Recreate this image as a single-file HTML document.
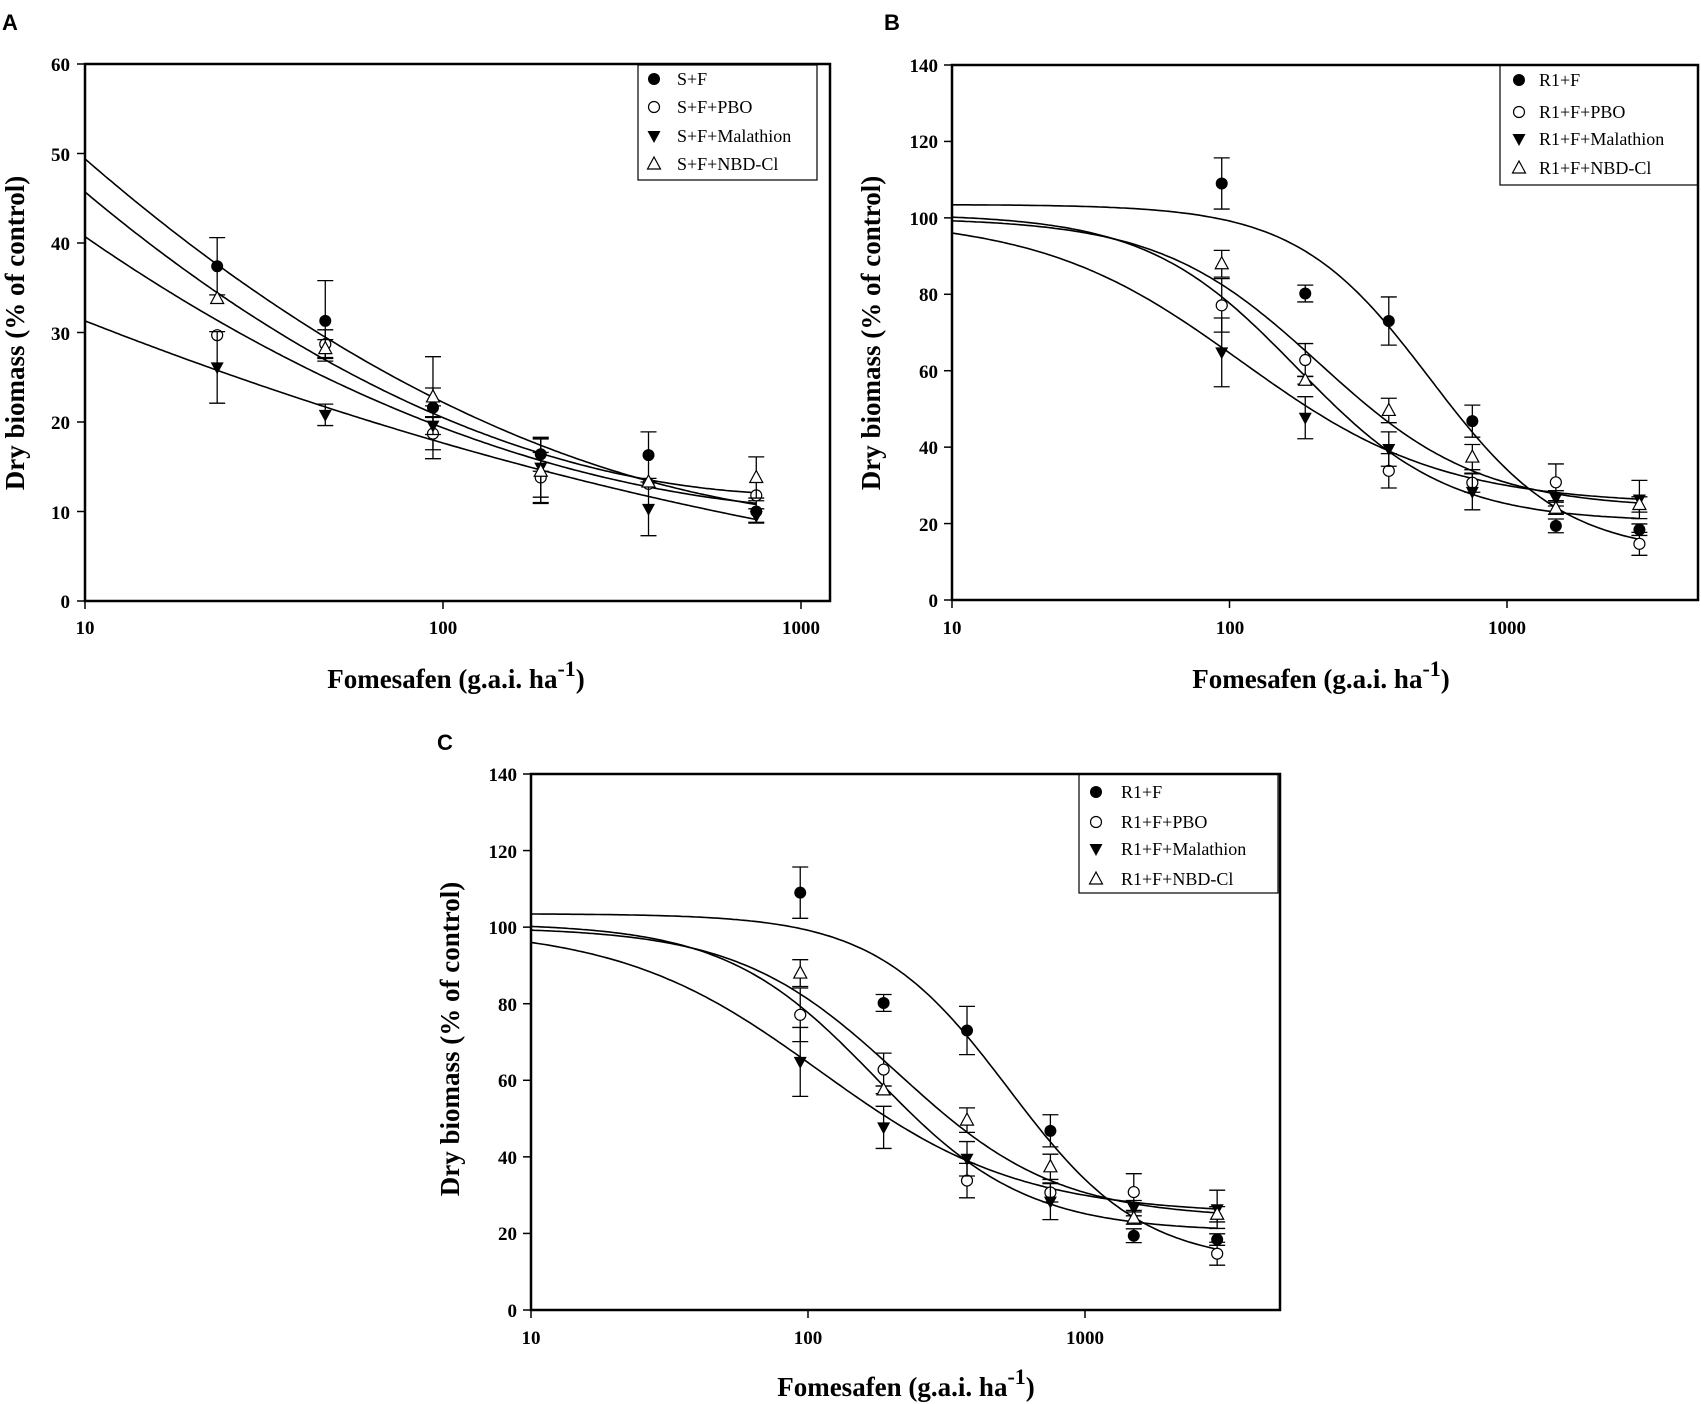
<!DOCTYPE html>
<html><head><meta charset="utf-8"><style>
body{margin:0;background:#fff;}
svg{display:block;font-family:"Liberation Serif",serif;}
.tk{font-weight:bold;font-size:19px;}
.ttl{font-weight:bold;font-size:27px;}
.lg{font-size:18px;}
.pl{font-family:"Liberation Sans",sans-serif;font-weight:bold;font-size:22px;}
</style></head><body>
<svg id="s" width="1701" height="1404" viewBox="0 0 1701 1404" xmlns="http://www.w3.org/2000/svg">
<text class="pl" x="2" y="30">A</text>
<text class="pl" x="884" y="30">B</text>
<text class="pl" x="437" y="750">C</text>
<g class="tk" text-anchor="end">
<text x="70" y="71">60</text><text x="70" y="161">50</text><text x="70" y="250">40</text><text x="70" y="340">30</text><text x="70" y="429">20</text><text x="70" y="519">10</text><text x="70" y="608">0</text>
</g>
<g class="tk" text-anchor="middle">
<text x="85" y="634">10</text><text x="443" y="634">100</text><text x="801" y="634">1000</text>
</g>
<text class="ttl" text-anchor="middle" x="456" y="688">Fomesafen (g.a.i. ha<tspan dy="-12" font-size="22">-1</tspan><tspan dy="12">)</tspan></text>
<text class="ttl" text-anchor="middle" transform="translate(24,333) rotate(-90)">Dry biomass (% of control)</text>
<g class="tk" text-anchor="end">
<text x="938" y="72">140</text><text x="938" y="148">120</text><text x="938" y="225">100</text><text x="938" y="301">80</text><text x="938" y="378">60</text><text x="938" y="454">40</text><text x="938" y="531">20</text><text x="938" y="607">0</text>
</g>
<g class="tk" text-anchor="middle">
<text x="952" y="634">10</text><text x="1230" y="634">100</text><text x="1507" y="634">1000</text>
</g>
<text class="ttl" text-anchor="middle" x="1321" y="688">Fomesafen (g.a.i. ha<tspan dy="-12" font-size="22">-1</tspan><tspan dy="12">)</tspan></text>
<text class="ttl" text-anchor="middle" transform="translate(880,333) rotate(-90)">Dry biomass (% of control)</text>
<g class="tk" text-anchor="end">
<text x="517" y="781">140</text><text x="517" y="858">120</text><text x="517" y="934">100</text><text x="517" y="1011">80</text><text x="517" y="1087">60</text><text x="517" y="1164">40</text><text x="517" y="1240">20</text><text x="517" y="1317">0</text>
</g>
<g class="tk" text-anchor="middle">
<text x="531" y="1344">10</text><text x="808" y="1344">100</text><text x="1085" y="1344">1000</text>
</g>
<text class="ttl" text-anchor="middle" x="906" y="1396">Fomesafen (g.a.i. ha<tspan dy="-12" font-size="22">-1</tspan><tspan dy="12">)</tspan></text>
<text class="ttl" text-anchor="middle" transform="translate(459,1039) rotate(-90)">Dry biomass (% of control)</text>
<rect x="638" y="65" width="179" height="115" fill="#fff" stroke="#000" stroke-width="1.2"/>
<g class="lg"><text x="677" y="85">S+F</text><text x="677" y="113">S+F+PBO</text><text x="677" y="142">S+F+Malathion</text><text x="677" y="170">S+F+NBD-Cl</text></g>
<rect x="1500" y="65" width="198" height="120" fill="#fff" stroke="#000" stroke-width="1.2"/>
<g class="lg"><text x="1539" y="86">R1+F</text><text x="1539" y="118">R1+F+PBO</text><text x="1539" y="145">R1+F+Malathion</text><text x="1539" y="174">R1+F+NBD-Cl</text></g>
<rect x="1079" y="774" width="199" height="119" fill="#fff" stroke="#000" stroke-width="1.2"/>
<g class="lg"><text x="1121" y="798">R1+F</text><text x="1121" y="828">R1+F+PBO</text><text x="1121" y="855">R1+F+Malathion</text><text x="1121" y="885">R1+F+NBD-Cl</text></g>
<g id="g"></g>
</svg>
<script>
var g=document.getElementById('g'),NS='http://www.w3.org/2000/svg';
function el(t,a){var e=document.createElementNS(NS,t);for(var k in a)e.setAttribute(k,a[k]);g.appendChild(e);return e;}
function mk(type,x,y){
 var r=6;
 if(type==0)el('circle',{cx:x,cy:y,r:r,fill:'#000'});
 if(type==1)el('circle',{cx:x,cy:y,r:r-0.5,fill:'#fff',stroke:'#000','stroke-width':1.2});
 if(type==2)el('polygon',{points:(x-6.5)+','+(y-5)+' '+(x+6.5)+','+(y-5)+' '+x+','+(y+7),fill:'#000'});
 if(type==3)el('polygon',{points:(x-6.5)+','+(y+5)+' '+(x+6.5)+','+(y+5)+' '+x+','+(y-7),fill:'#fff',stroke:'#000','stroke-width':1.2});
}
function panel(P){
 var X=function(v){return P.x0+(Math.log10(v)-1)*P.dec;},Y=function(v){return P.yb-(v/P.ymax)*(P.yb-P.yt);};
 el('rect',{x:P.x0,y:P.yt,width:P.x1-P.x0,height:P.yb-P.yt,fill:'none',stroke:'#000','stroke-width':2.5});
 P.yt_.forEach(function(t){el('line',{x1:P.x0-8,x2:P.x0,y1:Y(t),y2:Y(t),stroke:'#000','stroke-width':1.5});});
 [10,100,1000].forEach(function(t){el('line',{x1:X(t),x2:X(t),y1:P.yb,y2:P.yb+8,stroke:'#000','stroke-width':1.5});});
 P.curves.forEach(function(f){var d='';for(var i=0;i<=200;i++){var lv=1+i/200*(Math.log10(P.xe)-1),v=Math.pow(10,lv);d+=(i?'L':'M')+X(v).toFixed(1)+','+Y(f(v)).toFixed(1);}el('path',{d:d,fill:'none',stroke:'#000','stroke-width':1.6});});
 P.data.forEach(function(s,ti){s.forEach(function(p,i){var x=X(P.xs[i]),y=Y(p[0]),e=p[1];if(e){var a=Y(p[0]+e),b=Y(p[0]-e);el('line',{x1:x,x2:x,y1:a,y2:b,stroke:'#000','stroke-width':1.3});el('line',{x1:x-8,x2:x+8,y1:a,y2:a,stroke:'#000','stroke-width':1.3});el('line',{x1:x-8,x2:x+8,y1:b,y2:b,stroke:'#000','stroke-width':1.3});}mk(ti,x,y);});});
 P.leg.forEach(function(l,i){mk(i,l[0],l[1]);});
}
function Q(a,b,c){return function(v){var u=Math.log10(v)-1;return a+b*u+c*u*u;};}
panel({x0:85,x1:830,yt:64,yb:601,dec:358,ymax:60,xe:750,yt_:[0,10,20,30,40,50,60],
 xs:[23.4,46.9,93.75,187.5,375,750],
 curves:[Q(49.4,-34.75,7.55),Q(45.7,-33.54,8.33),Q(40.7,-27.6,6.25),Q(31.3,-15.72,2.07)],
 data:[[[37.4,3.2],[31.3,4.5],[21.6,5.7],[16.4,1.9],[16.3,2.6],[10.0,1.2]],
  [[29.7,0],[28.7,1.6],[18.7,1.8],[13.8,2.8],[13.1,0],[11.8,0]],
  [[26.1,4],[20.8,1.2],[19.6,1],[14.9,3.3],[10.3,3],[9.5,0.8]],
  [[33.8,0],[28.2,1],[22.8,1],[14.5,3.6],[13.3,0],[13.8,2.3]]],
 leg:[[654,79],[654,107],[654,136],[654,164]]});
function LL(c,d,e,b){return function(x){return c+(d-c)/(1+Math.pow(x/e,b));};}
var xb=[93.75,187.5,375,750,1500,3000];
var cb=[LL(12,103.5,530,1.8),LL(20.5,101,175,1.6),LL(24,100,210,1.5),LL(25,100,110,1.2)];
var db=[[[109,6.7],[80.2,2.2],[73,6.3],[46.8,4.2],[19.4,1.8],[18.4,1.5]],
 [[77.1,7],[62.8,4.3],[33.8,4.5],[30.7,2.5],[30.8,4.8],[14.7,3]],
 [[64.8,9],[47.7,5.5],[39.5,4.5],[28.3,4.7],[26.6,2],[26.3,5]],
 [[88,3.5],[57.5,1],[49.6,3.2],[37.4,3.3],[24,1.6],[25,2]]];
panel({x0:952,x1:1698,yt:65,yb:600,dec:277.5,ymax:140,xe:3000,yt_:[0,20,40,60,80,100,120,140],xs:xb,curves:cb,data:db,leg:[[1519,80],[1519,112],[1519,139],[1519,168]]});
panel({x0:531,x1:1280,yt:774,yb:1310,dec:277,ymax:140,xe:3000,yt_:[0,20,40,60,80,100,120,140],xs:xb,curves:cb,data:db,leg:[[1096,792],[1096,822],[1096,849],[1096,879]]});
</script>
</body></html>
